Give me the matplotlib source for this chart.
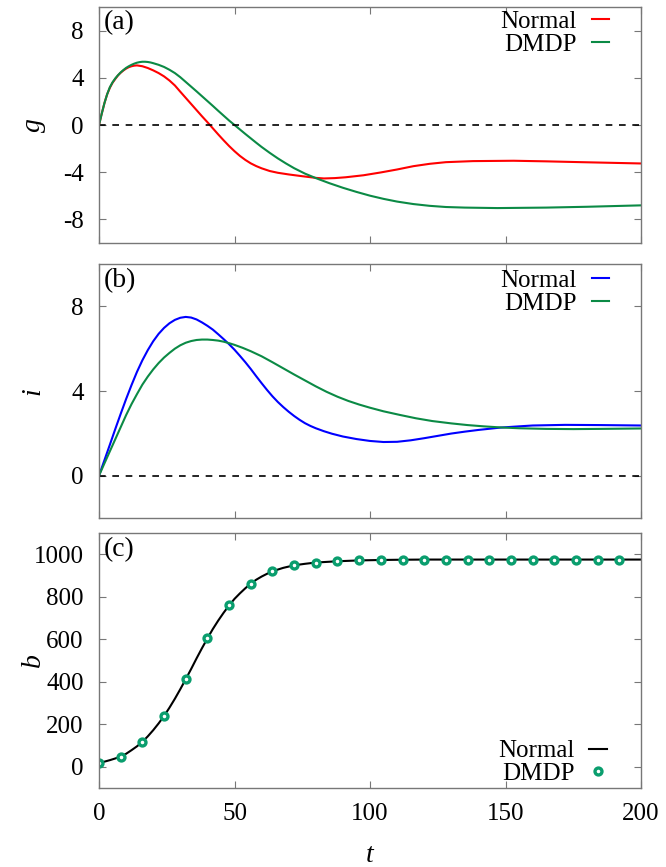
import matplotlib
matplotlib.use("Agg")
import matplotlib.pyplot as plt

# --- data ---
t_g_normal = [0, 1, 2, 3, 4, 5, 6, 7, 8, 9, 10, 11, 12, 13, 14, 16, 18, 20, 22, 24, 26,
              28, 30, 32, 34, 36, 38, 40, 42, 44, 46, 48, 50, 52, 54, 56, 58, 60, 63, 66,
              70, 75, 80, 83, 87, 91, 97.6, 104, 110, 116, 122, 128, 138, 153, 165, 178,
              190, 200]
g_normal = [0, 0.95, 1.85, 2.6, 3.15, 3.58, 3.9, 4.2, 4.43, 4.62, 4.78, 4.9, 4.98, 5.03,
            5.05, 4.98, 4.83, 4.63, 4.4, 4.12, 3.77, 3.35, 2.82, 2.3, 1.78, 1.26, 0.74,
            0.24, -0.28, -0.8, -1.3, -1.78, -2.22, -2.62, -2.96, -3.25, -3.48, -3.67, -3.9,
            -4.05, -4.19, -4.34, -4.48, -4.53, -4.5, -4.43, -4.26, -4.02, -3.77, -3.49,
            -3.29, -3.15, -3.06, -3.03, -3.08, -3.15, -3.21, -3.26]

t_g_dmdp = [0, 1, 2, 3, 4, 5, 6, 7, 8, 9, 10, 11, 12, 13, 14, 15, 16, 17, 18, 19, 20, 22,
            24, 26, 28, 30, 32, 34, 36, 38, 40, 42, 44, 46, 48, 50, 52, 54, 56, 58, 60,
            63, 66, 69, 72, 76, 80, 85, 90, 95, 100, 105, 110, 116, 122, 128, 135, 147,
            165, 180, 190, 200]
g_dmdp = [0, 0.95, 1.85, 2.6, 3.2, 3.62, 3.95, 4.22, 4.46, 4.66, 4.84, 4.98, 5.1, 5.2,
          5.28, 5.33, 5.36, 5.36, 5.34, 5.3, 5.24, 5.1, 4.92, 4.68, 4.4, 4.05, 3.65, 3.25,
          2.85, 2.44, 2.03, 1.62, 1.2, 0.79, 0.38, 0.0, -0.38, -0.76, -1.13, -1.5, -1.86,
          -2.36, -2.83, -3.26, -3.66, -4.12, -4.5, -4.93, -5.32, -5.67, -5.99, -6.26,
          -6.49, -6.7, -6.85, -6.95, -7.0, -7.04, -7.0, -6.93, -6.87, -6.81]

t_i_normal = [0, 2, 4, 6, 8, 10, 12, 14, 16, 18, 20, 22, 24, 26, 28, 30, 32, 34, 36, 38,
              40, 42, 44, 46, 48, 50, 52, 54, 56, 58, 60, 62, 64, 66, 68, 70, 72, 74, 76,
              78, 80, 83, 86, 90, 95, 100, 105, 110, 115, 120, 125, 130, 135, 140, 148,
              155, 160, 172, 185, 200]
i_normal = [0, 0.73, 1.46, 2.2, 2.92, 3.62, 4.28, 4.9, 5.45, 5.93, 6.35, 6.7, 6.98, 7.2,
            7.36, 7.46, 7.5, 7.47, 7.38, 7.24, 7.08, 6.9, 6.68, 6.45, 6.21, 5.95, 5.66,
            5.36, 5.04, 4.7, 4.37, 4.05, 3.75, 3.48, 3.24, 3.02, 2.82, 2.64, 2.48, 2.35,
            2.24, 2.1, 1.98, 1.85, 1.73, 1.64, 1.59, 1.6, 1.67, 1.77, 1.88, 1.99, 2.08,
            2.16, 2.27, 2.33, 2.37, 2.4, 2.39, 2.37]

t_i_dmdp = [0, 2, 4, 6, 8, 10, 12, 14, 16, 18, 20, 22, 24, 26, 28, 30, 32, 34, 36, 38, 40,
            42, 44, 46, 48, 50, 53, 56, 60, 64, 68, 72, 76, 80, 84, 88, 92, 96, 100, 105,
            111, 117, 123, 130, 136, 142, 148, 155, 165, 175, 185, 200]
i_dmdp = [0, 0.58, 1.15, 1.72, 2.29, 2.86, 3.38, 3.85, 4.3, 4.68, 5.02, 5.32, 5.58, 5.8,
          6.0, 6.16, 6.28, 6.36, 6.41, 6.43, 6.43, 6.41, 6.38, 6.33, 6.26, 6.18, 6.04, 5.88,
          5.64, 5.36, 5.07, 4.78, 4.5, 4.22, 3.96, 3.73, 3.53, 3.36, 3.21, 3.04, 2.87, 2.71,
          2.58, 2.47, 2.39, 2.33, 2.28, 2.24, 2.21, 2.2, 2.21, 2.23]

t_b = [0, 2, 4, 6, 8, 10, 12, 14, 16, 18, 20, 22, 24, 26, 28, 30, 32, 34, 36, 38, 40, 42,
       44, 46, 48, 50, 52, 54, 56, 58, 60, 62, 64, 66, 68, 70, 72, 76, 80, 84, 88, 92, 96,
       100, 104, 110, 120, 200]
b_normal = [17, 24, 31, 39, 48, 61, 78, 96, 117, 143, 172, 204, 239, 278, 320, 365, 412,
            460, 510, 558, 604, 648, 688, 725, 759, 790, 816, 840, 862, 880, 895, 908, 919,
            928, 936, 942, 948, 955, 961, 964, 967, 969, 971, 972, 973, 974, 975, 975]

t_dmdp = [0, 8, 16, 24, 32, 40, 48, 56, 64, 72, 80, 88, 96, 104, 112, 120, 128, 136,
          144, 152, 160, 168, 176, 184, 192]
b_dmdp = [17, 48, 117, 239, 412, 604, 759, 862, 919, 948, 961, 967, 971, 973, 975, 975,
          975, 975, 975, 975, 975, 975, 975, 975, 975]

plt.rcParams['font.family'] = ['Liberation Serif', 'DejaVu Serif']
plt.rcParams['font.size'] = 18
plt.rcParams['axes.unicode_minus'] = False

RED = '#ff0000'
GREEN = '#0b8a45'
BLUE = '#0000ff'
TEAL = '#0a9e6e'
SPINE = '#777777'

fig = plt.figure(figsize=(6.66, 8.67), dpi=100)
W = 666.0
H = 867.0


def make_axes(top, bottom):
    ax = fig.add_axes([99 / W, 1 - bottom / H, (641 - 99) / W, (bottom - top) / H])
    for sp in ax.spines.values():
        sp.set_color(SPINE)
        sp.set_linewidth(1.0)
    ax.tick_params(direction='in', top=True, right=True, length=5, width=0.8,
                   color=SPINE, labelsize=18)
    ax.tick_params(axis='y', pad=11)
    ax.tick_params(axis='x', pad=11)
    ax.set_xlim(0, 200)
    ax.set_xticks([0, 50, 100, 150, 200])
    return ax


def style_legend(ax, loc, anchor):
    ax.legend(loc=loc, bbox_to_anchor=anchor, frameon=False, markerfirst=False,
              handlelength=0.7, handletextpad=0.6, labelspacing=0.0,
              borderaxespad=0.0, borderpad=0.0, fontsize=18)


# panel (a)
ax1 = make_axes(7, 243)
ax1.plot(t_g_normal, g_normal, color=RED, lw=1.5, label='Normal')
ax1.plot(t_g_dmdp, g_dmdp, color=GREEN, lw=1.5, label='DMDP')
ax1.axhline(0, color='black', lw=1.2, ls=(0, (4, 4)))
ax1.set_ylim(-10, 10)
ax1.set_yticks([-8, -4, 0, 4, 8])
ax1.set_xticklabels([])
ax1.set_ylabel('g', fontstyle='italic', fontsize=20)
ax1.yaxis.set_label_coords(-0.098, 0.5)
ax1.text(0.008, 0.985, '(a)', transform=ax1.transAxes, va='top', ha='left', fontsize=20)
style_legend(ax1, 'upper right', (0.941, 0.985))

# panel (b)
ax2 = make_axes(264, 518)
ax2.plot(t_i_normal, i_normal, color=BLUE, lw=1.5, label='Normal')
ax2.plot(t_i_dmdp, i_dmdp, color=GREEN, lw=1.5, label='DMDP')
ax2.axhline(0, color='black', lw=1.2, ls=(0, (4, 4)))
ax2.set_ylim(-2, 10)
ax2.set_yticks([0, 4, 8])
ax2.set_xticklabels([])
ax2.set_ylabel('i', fontstyle='italic', fontsize=20)
ax2.yaxis.set_label_coords(-0.098, 0.5)
ax2.text(0.008, 0.985, '(b)', transform=ax2.transAxes, va='top', ha='left', fontsize=20)
style_legend(ax2, 'upper right', (0.941, 0.978))

# panel (c)
ax3 = make_axes(533, 788)
ax3.plot(t_b, b_normal, color='black', lw=1.5, label='Normal')
ax3.plot(t_dmdp, b_dmdp, ls='none', marker='o', markersize=5, markerfacecolor='white',
         markeredgecolor=TEAL, markeredgewidth=2.4, label='DMDP')
ax3.set_ylim(-100, 1100)
ax3.set_yticks([0, 200, 400, 600, 800, 1000])
ax3.set_ylabel('b', fontstyle='italic', fontsize=20)
ax3.yaxis.set_label_coords(-0.098, 0.5)
ax3.set_xlabel('t', fontstyle='italic', fontsize=20)
ax3.xaxis.set_label_coords(0.5, -0.215)
ax3.text(0.008, 0.985, '(c)', transform=ax3.transAxes, va='top', ha='left', fontsize=20)
style_legend(ax3, 'lower right', (0.937, 0.012))

fig.savefig('out.png', dpi=100)
